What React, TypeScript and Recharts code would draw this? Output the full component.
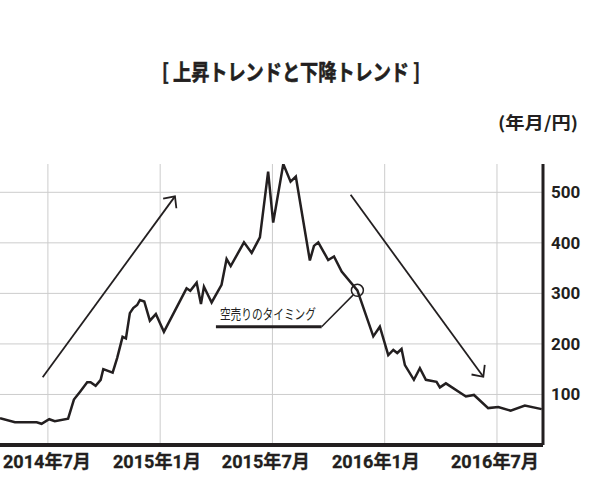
import React from "react";
import {
  LineChart,
  Line,
  XAxis,
  YAxis,
  CartesianGrid,
  ReferenceLine,
  ReferenceDot,
} from "recharts";

const INK = "#231f20";
const GRID = "#d0d0d0";
const JP = "'Noto Sans CJK JP', sans-serif";
const NUM = "Roboto, 'Noto Sans CJK JP', sans-serif";

// x = 通し月, y = 株価（円）
const months = [
  3.44, 4.24, 5.4, 5.66, 6.07, 6.37, 7.08, 7.39, 7.71, 8.1, 8.28, 8.55, 8.82,
  8.96, 9.46, 9.7, 9.99, 10.17, 10.38, 10.56, 10.77, 10.92, 11.15, 11.45, 11.77,
  12.2, 13.41, 13.61, 13.95, 14.18, 14.34, 14.75, 15.28, 15.55, 15.77, 16.48,
  16.89, 17.33, 17.77, 18.04, 18.58, 18.97, 19.25, 20.0, 20.22, 20.45, 20.98,
  21.29, 21.7, 22.54, 23.39, 23.74, 24.19, 24.46, 24.67, 24.9, 25.08, 25.56,
  25.88, 26.2, 26.77, 26.95, 27.27, 28.34, 28.77, 29.53, 30.07, 30.73, 31.49,
  32.39,
];
const prices = [
  53, 45, 45, 42, 51, 47, 52, 90, 105, 124, 124, 117, 129, 150, 143, 172, 214,
  211, 261, 271, 277, 287, 284, 246, 259, 224, 310, 305, 321, 279, 313, 282,
  317, 368, 354, 401, 380, 411, 541, 440, 556, 521, 531, 365, 394, 401, 366,
  373, 343, 306, 215, 234, 178, 188, 182, 190, 158, 129, 152, 129, 125, 114,
  122, 96, 99, 73, 75, 68, 78, 71,
];

const gridMonths = [6, 12, 18, 24, 30];
const labelMonths = [5.95, 11.83, 17.65, 23.53, 29.89];
const monthLabels = ["2014年7月", "2015年1月", "2015年7月", "2016年1月", "2016年7月"];
const priceTicks = [100, 200, 300, 400, 500];

// 矢印・注釈（データ座標）
const upArrow = [
  { x: 5.72, y: 134 },
  { x: 12.79, y: 492 },
];
const downArrow = [
  { x: 22.18, y: 495 },
  { x: 29.27, y: 135 },
];
const sellPoint = { x: 22.54, y: 306 };
const calloutBar = [
  { x: 14.98, y: 234 },
  { x: 20.63, y: 234 },
];
const calloutLink = [
  { x: 20.63, y: 234 },
  { x: 22.32, y: 297 },
];

const data = months.map((m, i) => ({ m, price: prices[i] }));

const MonthTick = (props: any) => {
  const { x, y, payload } = props;
  const i = labelMonths.indexOf(payload.value);
  return (
    <text
      x={x}
      y={y + 15}
      textAnchor="middle"
      fill={INK}
      stroke={INK}
      strokeWidth={0.3}
      fontSize={18}
      fontWeight={700}
      fontFamily={NUM}
      textLength={88}
      lengthAdjust="spacingAndGlyphs"
    >
      {monthLabels[i]}
    </text>
  );
};

const arrowShape = (p: any) => {
  const { x1, y1, x2, y2 } = p;
  const a = Math.atan2(y1 - y2, x1 - x2);
  const len = 12;
  const spread = 0.75;
  const h1 = `${x2 + len * Math.cos(a + spread)},${y2 + len * Math.sin(a + spread)}`;
  const h2 = `${x2 + len * Math.cos(a - spread)},${y2 + len * Math.sin(a - spread)}`;
  return (
    <g>
      <line x1={x1} y1={y1} x2={x2} y2={y2} stroke={INK} strokeWidth={1.8} />
      <polyline
        points={`${h1} ${x2},${y2} ${h2}`}
        fill="none"
        stroke={INK}
        strokeWidth={1.8}
      />
    </g>
  );
};

const calloutShape = (p: any) => (
  <g>
    <line x1={p.x1} y1={p.y1} x2={p.x2} y2={p.y2} stroke={INK} strokeWidth={3} />
    <text
      x={p.x1 + 4}
      y={p.y1 - 7.5}
      fill={INK}
      fontSize={14}
      fontFamily={JP}
      textLength={96}
      lengthAdjust="spacingAndGlyphs"
    >
      空売りのタイミング
    </text>
  </g>
);

const linkShape = (p: any) => (
  <line x1={p.x1} y1={p.y1} x2={p.x2} y2={p.y2} stroke={INK} strokeWidth={1.5} />
);

export default function App() {
  return (
    <div style={{ position: "absolute", left: 0, top: 0, width: 614, height: 482, background: "#fff" }}>
      <LineChart
        width={614}
        height={482}
        data={data}
        margin={{ top: 164, right: 0, bottom: 0, left: 0 }}
      >
        <CartesianGrid
          horizontal={{ stroke: GRID, strokeWidth: 2 }}
          vertical={{ stroke: GRID, strokeWidth: 2 }}
          verticalValues={gridMonths}
          syncWithTicks
        />
        <XAxis
          type="number"
          dataKey="m"
          domain={[3.44, 32.46]}
          allowDataOverflow
          ticks={labelMonths}
          interval={0}
          tickLine={false}
          axisLine={{ stroke: INK, strokeWidth: 4 }}
          height={37}
          tick={<MonthTick />}
        />
        <YAxis
          orientation="right"
          domain={[0, 556]}
          allowDataOverflow
          ticks={priceTicks}
          interval={0}
          width={71}
          tickLine={false}
          axisLine={{ stroke: INK, strokeWidth: 3 }}
          tick={{ fill: INK, fontSize: 17, fontWeight: 700, fontFamily: NUM }}
        />
        <Line
          type="linear"
          dataKey="price"
          stroke={INK}
          strokeWidth={2.5}
          dot={false}
          activeDot={false}
          isAnimationActive={false}
        />
        <ReferenceLine segment={upArrow} shape={arrowShape} />
        <ReferenceLine segment={downArrow} shape={arrowShape} />
        <ReferenceLine segment={calloutLink} shape={linkShape} />
        <ReferenceLine segment={calloutBar} shape={calloutShape} />
        <ReferenceDot
          x={sellPoint.x}
          y={sellPoint.y}
          r={6}
          fill="none"
          stroke={INK}
          strokeWidth={1.5}
        />
      </LineChart>
      <svg
        width={614}
        height={150}
        style={{ position: "absolute", left: 0, top: 0, pointerEvents: "none" }}
      >
        <text
          x={291}
          y={80}
          textAnchor="middle"
          fill={INK}
          stroke={INK}
          strokeWidth={0.6}
          fontSize={22}
          fontWeight={700}
          fontFamily={JP}
          textLength={258}
          lengthAdjust="spacingAndGlyphs"
        >
          [ 上昇トレンドと下降トレンド ]
        </text>
        <text
          x={498}
          y={129}
          fill={INK}
          fontSize={17}
          fontWeight={700}
          fontFamily={JP}
          textLength={80}
          lengthAdjust="spacingAndGlyphs"
        >
          (年月/円)
        </text>
      </svg>
    </div>
  );
}
